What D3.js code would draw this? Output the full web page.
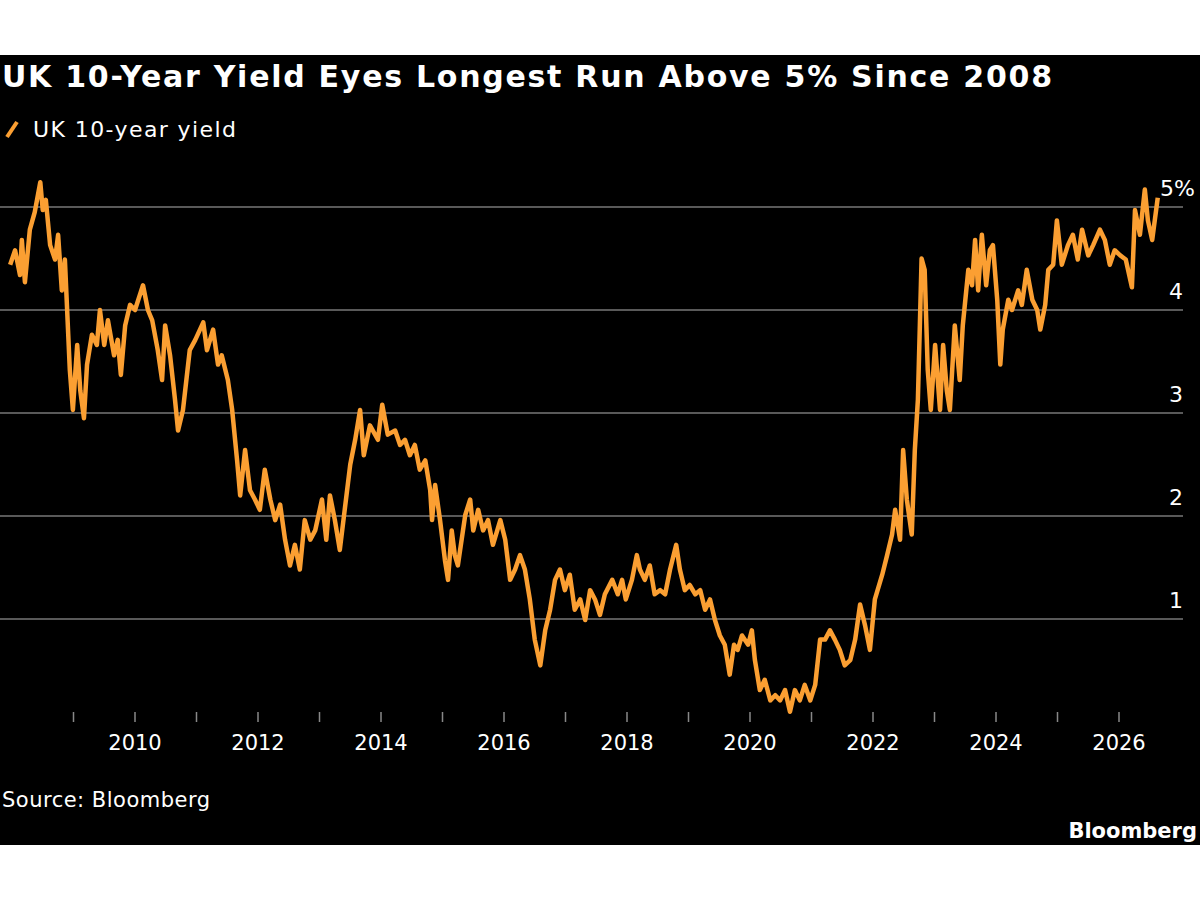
<!DOCTYPE html>
<html>
<head>
<meta charset="utf-8">
<script src="https://cdn.jsdelivr.net/npm/d3@7"></script>
<style>
  body { margin: 0; background: #fff; }
  text { font-family: "DejaVu Sans", sans-serif; }
</style>
</head>
<body>
<svg id="chart" width="1200" height="900"></svg>
<script>
// decimal years and UK 10-year gilt yield (%)
const dates = [
  2007.97,2008.05,2008.13,2008.16,2008.21,2008.29,2008.37,2008.46,2008.50,2008.55,2008.62,2008.70,2008.75,2008.81,2008.86,2008.94,2008.99,
  2009.06,2009.11,2009.17,2009.22,2009.30,2009.38,2009.43,2009.50,2009.56,2009.66,2009.72,2009.77,2009.84,2009.92,
  2010.00,2010.13,2010.21,2010.28,2010.37,2010.44,2010.49,2010.57,2010.65,2010.70,2010.78,2010.89,2010.98,
  2011.11,2011.17,2011.27,2011.35,2011.41,2011.51,2011.58,2011.66,2011.71,2011.79,2011.87,2011.95,
  2012.03,2012.11,2012.20,2012.28,2012.36,2012.44,2012.52,2012.60,2012.68,2012.76,2012.85,2012.93,
  2013.04,2013.11,2013.17,2013.25,2013.33,2013.41,2013.50,2013.58,2013.66,2013.72,2013.82,2013.95,
  2014.02,2014.11,2014.23,2014.31,2014.39,2014.47,2014.55,2014.63,2014.72,2014.80,2014.83,2014.88,2014.96,
  2015.04,2015.09,2015.15,2015.20,2015.25,2015.37,2015.45,2015.50,2015.58,2015.66,2015.74,2015.82,2015.94,
  2016.02,2016.10,2016.18,2016.26,2016.34,2016.42,2016.50,2016.59,2016.67,2016.75,2016.83,2016.91,2016.99,
  2017.07,2017.15,2017.24,2017.32,2017.40,2017.48,2017.56,2017.64,2017.76,2017.85,2017.92,2017.98,
  2018.08,2018.16,2018.21,2018.29,2018.37,2018.45,2018.54,2018.62,2018.70,2018.80,2018.86,2018.94,
  2019.02,2019.11,2019.19,2019.27,2019.35,2019.43,2019.51,2019.59,2019.67,2019.74,2019.80,2019.87,2019.97,
  2020.03,2020.08,2020.16,2020.24,2020.33,2020.41,2020.49,2020.57,2020.65,2020.73,2020.81,2020.89,2020.98,
  2021.06,2021.14,2021.22,2021.30,2021.38,2021.46,2021.54,2021.63,2021.71,2021.79,2021.87,2021.95,
  2022.03,2022.15,2022.23,2022.31,2022.36,2022.44,2022.49,2022.55,2022.63,2022.68,2022.73,2022.76,2022.79,2022.84,2022.89,2022.94,
  2023.01,2023.09,2023.14,2023.20,2023.25,2023.33,2023.41,2023.46,2023.55,2023.61,2023.66,2023.71,2023.77,2023.84,2023.90,2023.95,
  2024.02,2024.07,2024.11,2024.20,2024.26,2024.36,2024.42,2024.50,2024.59,2024.67,2024.72,2024.80,2024.85,2024.93,2024.99,
  2025.07,2025.17,2025.25,2025.33,2025.40,2025.50,2025.58,2025.69,2025.77,2025.85,2025.93,
  2026.02,2026.11,2026.21,2026.26,2026.34,2026.42,2026.47,2026.54,2026.63
];
const yields = [
  4.44,4.58,4.34,4.68,4.27,4.78,4.95,5.24,4.97,5.07,4.63,4.49,4.73,4.19,4.49,3.42,3.03,
  3.66,3.22,2.95,3.47,3.76,3.66,4.00,3.66,3.90,3.56,3.71,3.37,3.85,4.05,
  4.00,4.24,4.00,3.90,3.61,3.32,3.85,3.56,3.13,2.83,3.03,3.61,3.71,
  3.88,3.61,3.81,3.47,3.56,3.32,3.03,2.54,2.20,2.64,2.25,2.16,
  2.06,2.45,2.16,1.96,2.11,1.77,1.52,1.72,1.48,1.96,1.77,1.86,
  2.16,1.77,2.20,1.96,1.67,2.06,2.50,2.74,3.03,2.59,2.88,2.74,
  3.08,2.79,2.83,2.69,2.74,2.59,2.69,2.45,2.54,2.25,1.96,2.30,1.96,
  1.57,1.38,1.86,1.62,1.52,2.01,2.16,1.86,2.06,1.86,1.96,1.72,1.96,
  1.77,1.38,1.48,1.62,1.48,1.19,0.80,0.55,0.89,1.09,1.38,1.48,1.28,
  1.43,1.09,1.19,0.99,1.28,1.19,1.04,1.24,1.38,1.24,1.38,1.19,
  1.38,1.62,1.48,1.38,1.52,1.24,1.28,1.24,1.48,1.72,1.48,1.28,
  1.33,1.24,1.28,1.09,1.19,0.99,0.84,0.75,0.46,0.75,0.70,0.84,0.75,
  0.89,0.60,0.31,0.41,0.21,0.26,0.21,0.31,0.10,0.31,0.21,0.36,0.21,
  0.36,0.80,0.80,0.89,0.80,0.70,0.55,0.60,0.80,1.14,0.94,0.70,
  1.19,1.43,1.62,1.82,2.06,1.77,2.64,2.16,1.82,2.64,3.13,3.81,4.50,4.39,3.42,3.03,
  3.66,3.03,3.66,3.22,3.03,3.85,3.32,3.85,4.39,4.24,4.68,4.19,4.73,4.24,4.58,4.63,
  4.10,3.47,3.81,4.10,4.00,4.19,4.05,4.39,4.10,4.00,3.81,4.05,4.39,4.44,4.87,
  4.44,4.63,4.73,4.49,4.78,4.53,4.63,4.78,4.68,4.44,4.58,
  4.53,4.49,4.22,4.97,4.73,5.17,4.87,4.68,5.09
];
const yTicks = [1, 2, 3, 4, 5];
const xLabelYears = [2010, 2012, 2014, 2016, 2018, 2020, 2022, 2024, 2026];
const xTickYears = d3.range(2009, 2027);

const series = dates.map((d, i) => ({ t: d, v: yields[i] }));

const svg = d3.select('#chart');
const orange = '#fb9f32';

svg.append('rect')
    .attr('x', 0).attr('y', 55)
    .attr('width', 1200).attr('height', 790)
    .attr('fill', '#000');

const x = d3.scaleLinear().domain([2010, 2026]).range([135, 1119]);
const y = d3.scaleLinear().domain([0, 5]).range([722, 207]);

// title + legend
svg.append('text')
    .attr('x', 2).attr('y', 87)
    .attr('fill', '#fff')
    .attr('font-size', 30).attr('font-weight', 'bold')
    .attr('textLength', 1050)
    .text('UK 10-Year Yield Eyes Longest Run Above 5% Since 2008');

svg.append('line')
    .attr('x1', 7).attr('y1', 137).attr('x2', 17).attr('y2', 122)
    .attr('stroke', orange).attr('stroke-width', 4);
svg.append('text')
    .attr('x', 33).attr('y', 137)
    .attr('fill', '#fff').attr('font-size', 22)
    .attr('textLength', 203)
    .text('UK 10-year yield');

// gridlines and y labels
svg.append('g').selectAll('line')
    .data(yTicks).enter()
    .append('line')
    .attr('x1', 0).attr('x2', 1183)
    .attr('y1', d => y(d)).attr('y2', d => y(d))
    .attr('stroke', '#777').attr('stroke-width', 1.5);

svg.append('g').selectAll('text')
    .data(yTicks).enter()
    .append('text')
    .attr('x', d => d == 5 ? 1195 : 1183)
    .attr('y', d => y(d) - 11)
    .attr('text-anchor', 'end')
    .attr('fill', '#fff').attr('font-size', 22)
    .text(d => d == 5 ? '5%' : d);

// x axis ticks + labels
svg.append('g').selectAll('line')
    .data(xTickYears).enter()
    .append('line')
    .attr('x1', d => x(d)).attr('x2', d => x(d))
    .attr('y1', 712).attr('y2', 722)
    .attr('stroke', '#888').attr('stroke-width', 1.5);

svg.append('g').selectAll('text')
    .data(xLabelYears).enter()
    .append('text')
    .attr('x', d => x(d)).attr('y', 750)
    .attr('text-anchor', 'middle')
    .attr('fill', '#fff').attr('font-size', 21)
    .text(d => d);

// the line
svg.append('path')
    .datum(series)
    .attr('fill', 'none')
    .attr('stroke', orange)
    .attr('stroke-width', 4.5)
    .attr('stroke-linejoin', 'round')
    .attr('d', d3.line().x(d => x(d.t)).y(d => y(d.v)));

// footer
svg.append('text')
    .attr('x', 2).attr('y', 807)
    .attr('fill', '#fff').attr('font-size', 21)
    .attr('textLength', 208)
    .text('Source: Bloomberg');
svg.append('text')
    .attr('x', 1197).attr('y', 838)
    .attr('text-anchor', 'end')
    .attr('fill', '#fff').attr('font-size', 21).attr('font-weight', 'bold')
    .text('Bloomberg');
</script>
</body>
</html>
